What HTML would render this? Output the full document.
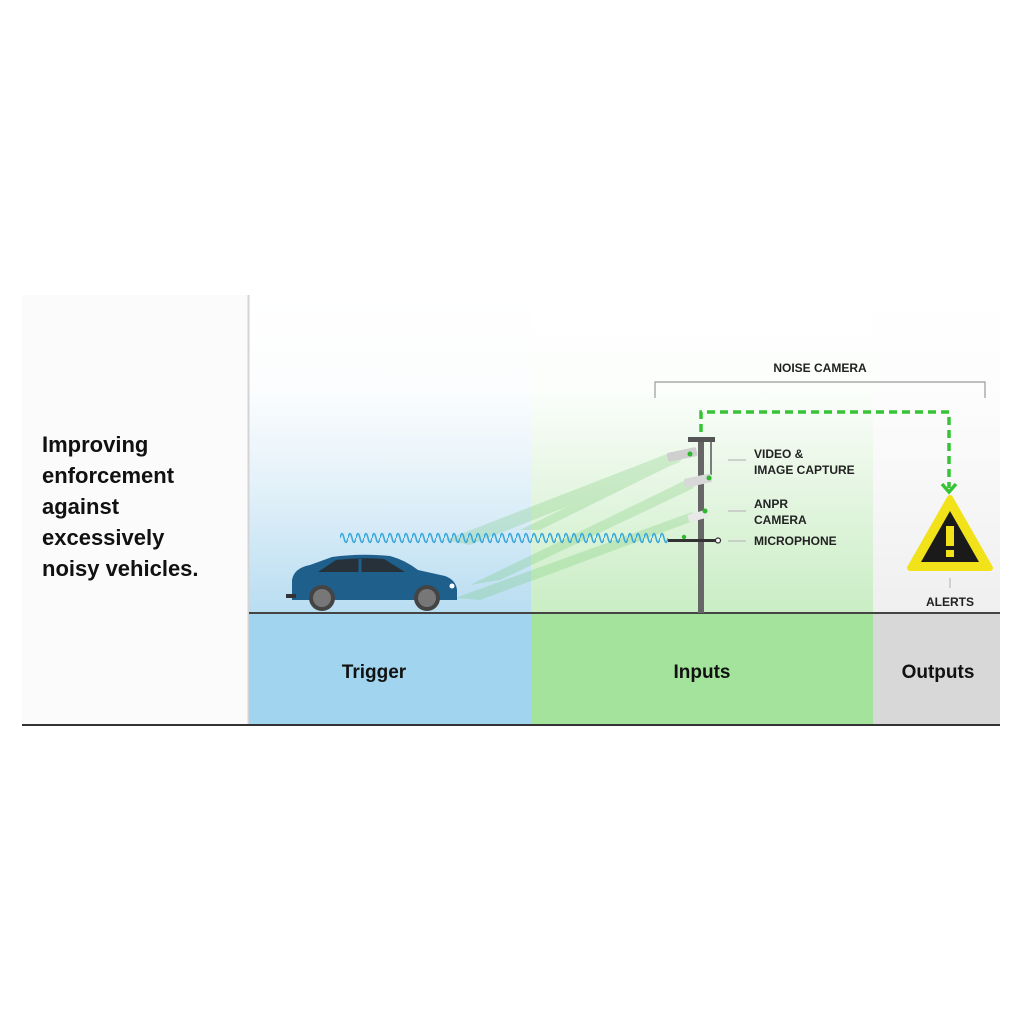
<!DOCTYPE html>
<html><head><meta charset="utf-8"><style>
html,body{margin:0;padding:0;background:#fff;}
svg{display:block;}
text{font-family:"Liberation Sans",sans-serif;}
</style></head><body>
<svg width="1024" height="1024" viewBox="0 0 1024 1024" xmlns="http://www.w3.org/2000/svg">
<defs>
<linearGradient id="gb" x1="0" y1="0" x2="0" y2="1">
<stop offset="0" stop-color="#ffffff"/><stop offset="0.3" stop-color="#fbfdfe"/><stop offset="0.6" stop-color="#e3f1f9"/><stop offset="1" stop-color="#b8ddf1"/></linearGradient>
<linearGradient id="gg" x1="0" y1="0" x2="0" y2="1">
<stop offset="0" stop-color="#ffffff"/><stop offset="0.3" stop-color="#fbfefb"/><stop offset="0.6" stop-color="#e6f6e3"/><stop offset="1" stop-color="#c9edc4"/></linearGradient>
<linearGradient id="gy" x1="0" y1="0" x2="0" y2="1">
<stop offset="0" stop-color="#ffffff"/><stop offset="0.35" stop-color="#fcfcfc"/><stop offset="1" stop-color="#efefef"/></linearGradient>
<pattern id="wave" x="340" y="530" width="8" height="16" patternUnits="userSpaceOnUse">
<path d="M0 8 Q2 -1 4 8 Q6 17 8 8" fill="none" stroke="#3aa8dc" stroke-width="1.6"/></pattern>
</defs>
<rect x="22" y="295" width="226" height="430" fill="#fbfbfb"/>
<rect x="249" y="295" width="282" height="319" fill="url(#gb)"/>
<rect x="531" y="295" width="342" height="319" fill="url(#gg)"/>
<rect x="873" y="295" width="127" height="319" fill="url(#gy)"/>
<line x1="248.5" y1="295" x2="248.5" y2="725" stroke="#d4d4d4" stroke-width="2"/>
<rect x="249" y="614" width="282" height="111" fill="#a1d4ef"/>
<rect x="531" y="614" width="342" height="111" fill="#a3e39b"/>
<rect x="873" y="614" width="127" height="111" fill="#d8d8d8"/>
<line x1="249" y1="613" x2="1000" y2="613" stroke="#444" stroke-width="2"/>
<line x1="22" y1="725" x2="1000" y2="725" stroke="#333" stroke-width="2"/>
<g font-weight="bold" font-size="22" fill="#111">
<text x="42" y="452">Improving</text>
<text x="42" y="483">enforcement</text>
<text x="42" y="514">against</text>
<text x="42" y="545">excessively</text>
<text x="42" y="576">noisy vehicles.</text>
</g>
<g font-weight="bold" font-size="19" fill="#111" text-anchor="middle">
<text x="374" y="678">Trigger</text>
<text x="702" y="678">Inputs</text>
<text x="938" y="678">Outputs</text>
</g>
<g fill="#5cc05a" opacity="0.22">
<polygon points="672,452 680,462 470,545 445,540"/>
<polygon points="690,478 694,488 500,580 470,585"/>
<polygon points="692,512 696,520 480,600 455,598"/>
<polygon points="672,455 682,460 540,530 520,530"/>
</g>
<rect x="340" y="530" width="328" height="16" fill="url(#wave)"/>
<rect x="698" y="440" width="6" height="173" fill="#666"/>
<rect x="688" y="437" width="27" height="5" fill="#555"/>
<line x1="711" y1="442" x2="711" y2="475" stroke="#555" stroke-width="1.5"/>
<rect x="667" y="450" width="30" height="9" rx="2" fill="#cfcfcf" transform="rotate(-12 682 454)"/>
<circle cx="690" cy="454" r="2.5" fill="#2eb82e"/>
<rect x="684" y="476" width="28" height="9" rx="2" fill="#d8d8d8" transform="rotate(-12 698 480)"/>
<circle cx="709" cy="478" r="2.5" fill="#2eb82e"/>
<rect x="688" y="512" width="20" height="8" rx="2" fill="#e8e8e8" transform="rotate(-15 698 516)"/>
<circle cx="705" cy="511" r="2.5" fill="#2eb82e"/>
<rect x="668" y="539" width="50" height="3" fill="#333"/>
<circle cx="718" cy="540.5" r="2.5" fill="#fff" stroke="#333" stroke-width="1.2"/>
<circle cx="684" cy="537" r="2.2" fill="#2eb82e"/>
<g stroke="#bbb" stroke-width="1.2">
<line x1="728" y1="460" x2="746" y2="460"/>
<line x1="728" y1="511" x2="746" y2="511"/>
<line x1="728" y1="541" x2="746" y2="541"/>
<line x1="950" y1="578" x2="950" y2="588"/>
</g>
<g font-weight="bold" font-size="12" fill="#222">
<text x="754" y="458">VIDEO &amp;</text>
<text x="754" y="474">IMAGE CAPTURE</text>
<text x="754" y="508">ANPR</text>
<text x="754" y="524">CAMERA</text>
<text x="754" y="545">MICROPHONE</text>
<text x="950" y="606" text-anchor="middle">ALERTS</text>
<text x="820" y="372" text-anchor="middle">NOISE CAMERA</text>
</g>
<path d="M655 398 V382 H985 V398" fill="none" stroke="#999" stroke-width="1.2"/>
<path d="M701 432 V412 H949 V488" fill="none" stroke="#36c436" stroke-width="3.5" stroke-dasharray="8 5"/>
<path d="M942 484 L949 492 L956 484" fill="none" stroke="#36c436" stroke-width="3.5"/>
<polygon points="950,498 990,568 910,568" fill="#f2e21a" stroke="#f2e21a" stroke-width="6" stroke-linejoin="round"/>
<polygon points="950,511 979,562 921,562" fill="#1a1a1a"/>
<rect x="946" y="526" width="8" height="20" fill="#f2e21a"/>
<rect x="946" y="550" width="8" height="7" fill="#f2e21a"/>
<g>
<path d="M292 597 L292 580 Q294 568 310 565 L332 557 Q360 553 390 556 Q405 560 418 570 L445 576 Q456 580 457 590 L457 600 L292 600 Z" fill="#1f5f8c"/>
<path d="M318 572 L336 560 Q360 557 384 559 L405 572 Z" fill="#26313a"/>
<line x1="360" y1="559" x2="360" y2="572" stroke="#1f5f8c" stroke-width="3"/>
<rect x="286" y="594" width="10" height="4" fill="#333"/>
<circle cx="452" cy="586" r="2.5" fill="#fff"/>
<circle cx="322" cy="598" r="13" fill="#444"/>
<circle cx="322" cy="598" r="9" fill="#777"/>
<circle cx="427" cy="598" r="13" fill="#444"/>
<circle cx="427" cy="598" r="9" fill="#777"/>
</g>
</svg>
</body></html>
